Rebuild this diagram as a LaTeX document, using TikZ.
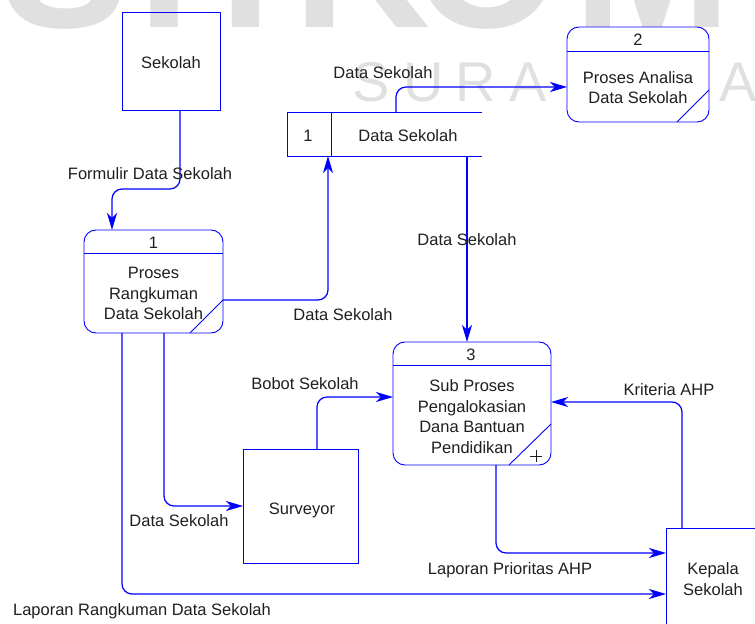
\documentclass[tikz,border=0pt]{standalone}
\usepackage{fontspec}
\setmainfont{Liberation Sans}
\usetikzlibrary{arrows.meta,calc}
\definecolor{dfdblue}{RGB}{0,0,255}
\definecolor{wmgray}{RGB}{224,224,224}
\begin{document}
\begin{tikzpicture}[x=1bp,y=-1bp,
  every node/.style={inner sep=0pt, outer sep=0pt},
  txt/.style={font=\fontsize{16.5bp}{20.5bp}\selectfont, text=black!88, align=center},
  entity/.style={draw=dfdblue, line width=0.9bp, rectangle},
  proc/.style={draw=dfdblue, fill=white, line width=0.9bp, rounded corners=12bp, rectangle},
  procline/.style={draw=dfdblue, line width=0.9bp},
  storeline/.style={draw=dfdblue, line width=0.9bp},
  flow/.style={draw=dfdblue, line width=1.2bp, rounded corners=10bp, -{Stealth[length=17bp,width=10bp,inset=5bp]}},
  bigwm/.style={text=wmgray, font=\fontsize{190bp}{190bp}\selectfont\bfseries},
  smallwm/.style={text=wmgray, font=\fontsize{56bp}{56bp}\selectfont}
]
\useasboundingbox (0,0) rectangle (755,624);
\clip (0,0) rectangle (755,624);

% watermark
\node[bigwm, anchor=base] (wmS) at (65,28) {S};
\node[bigwm, anchor=base] (wmT) at (165,28) {T};
\node[bigwm, anchor=base] (wmI) at (246,28) {I};
\node[bigwm, anchor=base] (wmK) at (362,28) {K};
\node[bigwm, anchor=base] (wmO) at (487,28) {O};
\node[bigwm, anchor=base] (wmM) at (653,28) {M};
\foreach \ch/\px [count=\i from 0] in {S/371,U/423.4,R/475.8,A/528.2,A/737.8}
  \node[smallwm, anchor=base] (sura\i) at (\px,102) {\ch};

% external entities
\node[entity, minimum width=98bp, minimum height=98bp] (sekolah) at (171,61) {};
\node[txt, anchor=base] (sekolahtxt) at (171,69) {Sekolah};
\node[entity, minimum width=115bp, minimum height=114bp] (surveyor) at (300.5,506) {};
\node[txt, anchor=base] (surveyortxt) at (302,514) {Surveyor};
\node[entity, minimum width=140bp, minimum height=132bp] (kepala) at (736,594) {};
\node[txt] (kepalatxt) at (713,579) {Kepala\\Sekolah};

% data store
\node[minimum width=195bp, minimum height=44bp] (store) at (384.5,134) {};
\draw[storeline] (store.north east) -- (store.north west) -- (store.south west) -- (store.south east);
\draw[storeline] ([xshift=44bp]store.north west) -- ([xshift=44bp]store.south west);
\node[txt, anchor=base] (storeid) at (308,142) {1};
\node[txt, anchor=base] (storetxt) at (408,142) {Data Sekolah};

% process 1
\node[proc, minimum width=139bp, minimum height=103bp] (p1) at (153.5,281.5) {};
\draw[procline] ([yshift=-23bp]p1.north west) -- ([yshift=-23bp]p1.north east);
\draw[procline] ([yshift=-18.5bp]p1.east) -- ([xshift=36.5bp]p1.south);
\node[txt, anchor=base] (p1num) at (153.5,248) {1};
\node[txt] (p1txt) at (153.5,293.5) {Proses\\Rangkuman\\Data Sekolah};

% process 2
\node[proc, minimum width=142bp, minimum height=95bp] (p2) at (638,74.5) {};
\draw[procline] ([yshift=-24bp]p2.north west) -- ([yshift=-24bp]p2.north east);
\draw[procline] ([yshift=-15.5bp]p2.east) -- ([xshift=39bp]p2.south);
\node[txt, anchor=base] (p2num) at (638,46) {2};
\node[txt] (p2txt) at (638,87.5) {Proses Analisa\\Data Sekolah};

% process 3
\node[proc, minimum width=158bp, minimum height=123bp] (p3) at (472,403.5) {};
\draw[procline] ([yshift=-23bp]p3.north west) -- ([yshift=-23bp]p3.north east);
\draw[procline] ([yshift=-20.5bp]p3.east) -- ([xshift=37bp]p3.south);
\node[txt, anchor=base] (p3num) at (471,360) {3};
\node[txt] (p3txt) at (472,416.5) {Sub Proses\\Pengalokasian\\Dana Bantuan\\Pendidikan};
\node[minimum size=12bp] (p3plus) at (536,456) {};
\draw[draw=black!88, line width=0.8bp] (p3plus.west) -- (p3plus.east) (p3plus.north) -- (p3plus.south);

% flows
\draw[flow] ([xshift=9bp]sekolah.south) -- ++(0,79) -| ([xshift=-41.5bp]p1.north);
\draw[flow] ([yshift=-18.5bp]p1.east) -| ([xshift=-56.5bp]store.south);
\draw[flow] ([xshift=11.5bp]store.north) |- ([yshift=-12.5bp]p2.west);
\draw[flow] ([xshift=82.5bp]store.south) -- ([xshift=82.5bp]store.south |- p3.north);
\draw[flow] ([xshift=10.5bp]p1.south) |- (surveyor.west);
\draw[flow] ([xshift=16.5bp]surveyor.north) |- ([yshift=6.5bp]p3.west);
\draw[flow] ([xshift=-31.5bp]p1.south) |- (kepala.west);
\draw[flow] ([xshift=24bp]p3.south) |- ([yshift=41bp]kepala.west);
\draw[flow] ([xshift=-54bp]kepala.north) |- ([yshift=1.5bp]p3.east);

% flow labels
\node[txt, anchor=base] (l1) at (150,180) {Formulir Data Sekolah};
\node[txt, anchor=base] (l2) at (343,320) {Data Sekolah};
\node[txt, anchor=base] (l3) at (383,79) {Data Sekolah};
\node[txt, anchor=base] (l4) at (467,245) {Data Sekolah};
\node[txt, anchor=base] (l5) at (179,526) {Data Sekolah};
\node[txt, anchor=base] (l6) at (305,389) {Bobot Sekolah};
\node[txt, anchor=base] (l7) at (669,395) {Kriteria AHP};
\node[txt, anchor=base] (l8) at (510,574) {Laporan Prioritas AHP};
\node[txt, anchor=base] (l9) at (142,615) {Laporan Rangkuman Data Sekolah};
\end{tikzpicture}
\end{document}
